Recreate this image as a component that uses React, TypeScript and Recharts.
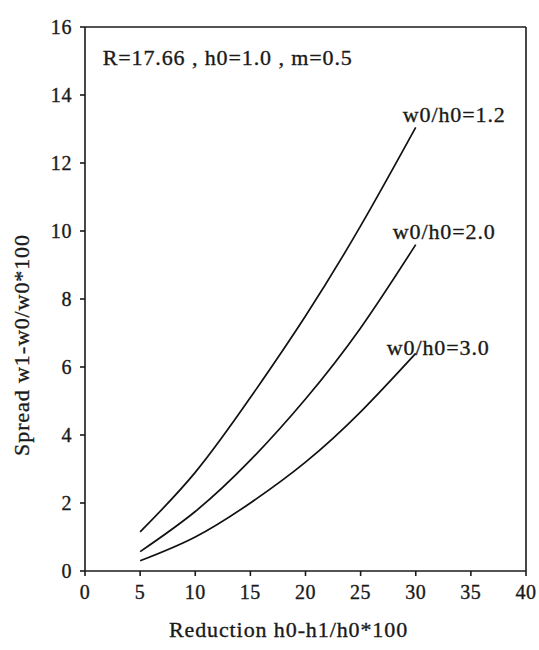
import React from 'react';
import {
  LineChart,
  Line,
  XAxis,
  YAxis,
  ReferenceLine,
  ReferenceDot,
  LabelList,
} from 'recharts';

// Reduction h0-h1/h0*100 (x values shared by all curves)
const reduction = [5, 10, 15, 20, 25, 30];

// Spread w1-w0/w0*100 for each width/height ratio
const spreadRatio12 = [1.15, 2.9, 5.1, 7.5, 10.15, 13.05];
const spreadRatio20 = [0.57, 1.75, 3.26, 5.06, 7.15, 9.6];
const spreadRatio30 = [0.3, 1.0, 2.0, 3.2, 4.68, 6.4];

const seriesLabels = ['w0/h0=1.2', 'w0/h0=2.0', 'w0/h0=3.0'];
const seriesKeys = ['r12', 'r20', 'r30'];

const xTicks = [0, 5, 10, 15, 20, 25, 30, 35, 40];
const yTicks = [0, 2, 4, 6, 8, 10, 12, 14, 16];

const parameterNote = 'R=17.66 , h0=1.0 , m=0.5';
const xTitle = 'Reduction h0-h1/h0*100';
const yTitle = 'Spread w1-w0/w0*100';

const data = reduction.map((x, i) => ({
  x,
  r12: spreadRatio12[i],
  r20: spreadRatio20[i],
  r30: spreadRatio30[i],
}));

const FONT = '"Liberation Serif", "Times New Roman", serif';
const INK = '#1a1a1a';

const textStyle = {
  fontFamily: FONT,
  fontSize: 22,
  fill: INK,
  stroke: INK,
  strokeWidth: 0.35,
  letterSpacing: 0.9,
};

// text offsets of each curve's end label, relative to the last point
const endLabelOffset = [
  { dx: -13, dy: -5 },
  { dx: -23, dy: -6 },
  { dx: -29, dy: 2 },
];

const makeEndLabel = (idx: number) => (props: any) => {
  const { x, y, index } = props;
  if (index !== reduction.length - 1) return null;
  const o = endLabelOffset[idx];
  return (
    <text x={x + o.dx} y={y + o.dy} textAnchor="start" style={textStyle}>
      {seriesLabels[idx]}
    </text>
  );
};

const XTitle = (props: any) => {
  const { viewBox } = props;
  const cx = viewBox.x + viewBox.width / 2 - 17;
  return (
    <text x={cx} y={viewBox.y + 66} textAnchor="middle" style={textStyle}>
      {xTitle}
    </text>
  );
};

const YTitle = (props: any) => {
  const { viewBox } = props;
  const cy = viewBox.y + viewBox.height / 2 + 46;
  const cx = 29;
  return (
    <text
      x={cx}
      y={cy}
      transform={`rotate(-90, ${cx}, ${cy})`}
      textAnchor="middle"
      style={textStyle}
    >
      {yTitle}
    </text>
  );
};

const NoteLabel = (props: any) => {
  const { viewBox } = props;
  return (
    <text x={viewBox.x} y={viewBox.y} dominantBaseline="central" style={textStyle}>
      {parameterNote}
    </text>
  );
};

const tickStyle = {
  fontFamily: FONT,
  fontSize: 20,
  fill: INK,
  stroke: INK,
  strokeWidth: 0.35,
  letterSpacing: 0.6,
};

export default function App() {
  return (
    <div style={{ position: 'absolute', left: 0, top: 0, background: '#fff' }}>
      <LineChart
        width={539}
        height={650}
        data={data}
        margin={{ top: 27, right: 13, bottom: 0, left: 0 }}
      >
        <XAxis
          dataKey="x"
          type="number"
          domain={[0, 40]}
          ticks={xTicks}
          tick={tickStyle}
          tickSize={5}
          tickMargin={9}
          height={79}
          stroke={INK}
          strokeWidth={1.6}
          label={<XTitle />}
        />
        <YAxis
          type="number"
          domain={[0, 16]}
          ticks={yTicks}
          tick={tickStyle}
          tickSize={5}
          tickMargin={8}
          width={85}
          stroke={INK}
          strokeWidth={1.6}
          label={<YTitle />}
        />
        <ReferenceLine y={16} stroke={INK} strokeWidth={1.6} />
        <ReferenceLine x={40} stroke={INK} strokeWidth={1.6} />
        <ReferenceDot x={1.6} y={15.1} r={0} stroke="none" fill="none" label={<NoteLabel />} />
        {seriesKeys.map((k, i) => (
          <Line
            key={k}
            dataKey={k}
            type="natural"
            stroke="#111"
            strokeWidth={1.7}
            dot={false}
            isAnimationActive={false}
          >
            <LabelList dataKey={k} content={makeEndLabel(i)} />
          </Line>
        ))}
      </LineChart>
    </div>
  );
}
